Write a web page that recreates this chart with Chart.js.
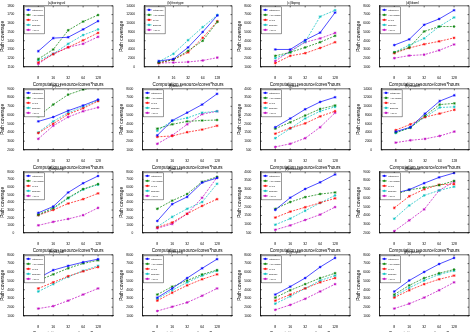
<!DOCTYPE html>
<html><head><meta charset="utf-8">
<script src="https://cdn.jsdelivr.net/npm/chart.js@4.4.1/dist/chart.umd.min.js"></script>
<style>
html,body{margin:0;padding:0;background:#fff;width:474px;height:332px;overflow:hidden;}
.cell{position:absolute;width:118px;height:87px;}
</style></head><body>
<script>
const xLabels = ['8','16','32','64','128'];
const seriesNames = ['UltraFuzz','AFL-single','PAFL','EnFuzz','AFL-P'];
const seriesColors = ['#0000ff','#008000','#ff0000','#00bfbf','#bf00bf'];
const titles = ['(a)boringssl','(b)freetype','(c)libpng','(d)libxml','(e)re2','(f)libarch','(g)size','(h)readelf',
                '(i)objdump','(j)avconv','(k)infotocap','(l)pdftotext','(m)tiff2pdf','(n)ffmpeg','(o)gnuplot','(p)tcpdump'];
const yMins = [1100,0,1000,1000,2000,1000,500,0,0,0,500,2000,1000,1000,1000,1000];
const yMaxs = [1800,14000,8000,8000,9000,8000,4000,14000,8000,8000,4000,9000,8000,8000,8000,8000];
const ySteps = [100,2000,1000,1000,1000,1000,500,2000,1000,1000,500,1000,1000,1000,1000,1000];

// rows: UltraFuzz, AFL-single, PAFL, EnFuzz, AFL-P
const boringssl = [[1280,1430,1440,1530,1625],[1190,1300,1520,1620,1695],[1150,1245,1325,1405,1490],[1175,1250,1365,1465,1530],[1135,1250,1325,1365,1445]];
const freetype = [[1330,1810,4470,8000,11800],[1000,1670,3670,6000,10330],[870,1670,3330,6670,10470],[1200,3000,6130,9130,11930],[870,1000,1130,1470,2130]];
const libpng = [[3000,3000,4070,4930,7230],[2270,2670,3230,3830,4570],[1430,2270,2570,3170,3830],[2000,2670,3900,6770,7500],[1670,2830,3830,4270,4900]];
const libxml = [[3500,4160,5830,6500,7500],[2670,3230,5070,5630,5630],[2570,3170,3600,3930,4330],[2670,3500,4270,5630,6670],[2000,2300,2400,2900,3570]];
const re2 = [[5270,5770,6500,7100,7770],[5860,7200,8340,8930,9200],[3930,5000,6100,6770,7600],[4000,5270,6270,6940,7670],[3270,4770,5770,6430,6870]];
const libarch = [[2670,4370,5270,6200,7430],[3440,3930,4270,4370,4430],[2500,2600,3030,3330,3770],[3200,4330,4670,5270,5430],[1700,2670,3930,5100,5430]];
const size = [[1800,2300,2830,3250,3520],[1720,2080,2470,2850,3050],[1430,1750,2020,2420,2720],[1170,1720,2300,2720,2970],[670,850,1170,1800,2630]];
const readelf = [[4200,5200,8330,11200,12530],[4000,5070,7870,10400,10670],[4540,5870,7530,8330,9200],[3860,5200,7530,9730,9870],[1670,2200,2530,3200,4200]];
const objdump = [[2630,3460,5300,6510,7460],[2400,3280,4610,5750,6400],[2320,3010,3850,4420,5180],[2320,3160,4530,5680,6320],[990,1450,1830,2320,3280]];
const avconv = [[1560,3770,4720,6590,7200],[3160,4230,5100,6700,7350],[720,1370,2510,3540,4420],[800,2100,3160,4040,6440],[610,1180,2510,4610,7280]];
const infotocap = [[1820,2520,3020,3400,3850],[1880,2270,2550,2730,2820],[1380,1720,1970,2230,2480],[970,1320,1770,2220,2650],[680,930,1240,1550,1980]];
const pdftotext = [[6540,6970,7700,8370,8870],[6370,6940,7200,7470,7960],[4870,6200,7000,7530,7600],[3630,5140,6300,6870,7300],[2200,3440,4700,6870,7870]];
const tiff2pdf = [[5340,6250,6740,7160,7510],[5060,5760,6460,7020,7370],[4150,4850,5550,6110,6600],[3800,4640,5480,6180,6740],[1840,2120,2750,3450,4150]];
const ffmpeg = [[3100,4150,5340,6460,7510],[3450,4360,5060,5760,6250],[2750,3660,4500,5200,5760],[2960,3940,4850,5620,6180],[1560,2050,2540,3310,4150]];
const gnuplot = [[3450,4360,5340,6600,7650],[3100,3940,4640,5340,5900],[2750,3450,4150,4850,5340],[2400,3240,4150,5060,5620],[1700,2260,2960,3800,4640]];
const tcpdump = [[3800,5060,6040,6950,7650],[3450,4500,5340,5900,6320],[3100,3940,4640,5200,5620],[3240,4220,5060,5760,6180],[1840,2400,3100,3940,4850]];

const allData = [boringssl,freetype,libpng,libxml,re2,libarch,size,readelf,objdump,avconv,infotocap,pdftotext,tiff2pdf,ffmpeg,gnuplot,tcpdump];
const FONT = 'Liberation Sans';

function star(ctx, x, y, r){
  ctx.beginPath();
  for(let k=0;k<4;k++){
    const ang = k*Math.PI/4;
    ctx.moveTo(x - r*Math.cos(ang), y - r*Math.sin(ang));
    ctx.lineTo(x + r*Math.cos(ang), y + r*Math.sin(ang));
  }
  ctx.stroke();
}

const framePlugin = {
  id: 'frameLegend',
  afterDatasetsDraw(chart){
    const ctx = chart.ctx, a = chart.chartArea;
    const xs = chart.scales.x, ys = chart.scales.y;
    ctx.save();
    ctx.strokeStyle = '#000'; ctx.lineWidth = 0.6; ctx.setLineDash([]);
    ctx.strokeRect(a.left, a.top, a.right - a.left, a.bottom - a.top);
    ctx.beginPath();
    xs.ticks.forEach(t => { const p = xs.getPixelForValue(t.value);
      ctx.moveTo(p, a.bottom); ctx.lineTo(p, a.bottom - 1.5);
      ctx.moveTo(p, a.top); ctx.lineTo(p, a.top + 1.5); });
    ys.ticks.forEach(t => { const p = ys.getPixelForValue(t.value);
      ctx.moveTo(a.left, p); ctx.lineTo(a.left + 1.5, p);
      ctx.moveTo(a.right, p); ctx.lineTo(a.right - 1.5, p); });
    ctx.stroke();
    // legend box
    const lx = a.left + 1, ly = a.top + 1, w = 20, h = 27;
    ctx.fillStyle = '#fff'; ctx.fillRect(lx, ly, w, h);
    ctx.strokeStyle = '#000'; ctx.lineWidth = 0.4; ctx.strokeRect(lx, ly, w, h);
    chart.data.datasets.forEach((d, i) => {
      const y = ly + 3 + i * 5;
      ctx.strokeStyle = d.borderColor; ctx.lineWidth = 0.7;
      ctx.setLineDash(d.borderDash || []);
      ctx.beginPath(); ctx.moveTo(lx + 1.5, y); ctx.lineTo(lx + 6.5, y); ctx.stroke();
      ctx.setLineDash([]);
      star(ctx, lx + 4, y, 1.2);
      ctx.fillStyle = '#000';
      ctx.font = '2.4px "' + FONT + '"';
      ctx.textBaseline = 'middle'; ctx.textAlign = 'left';
      ctx.fillText(d.label, lx + 8, y);
    });
    ctx.restore();
  }
};

allData.forEach((vals, idx) => {
  const col = idx % 4, row = Math.floor(idx / 4);
  const div = document.createElement('div');
  div.className = 'cell';
  div.style.left = Math.round(col * 118.5) + 'px';
  div.style.top = Math.round(row * 83) + 'px';
  const cv = document.createElement('canvas');
  cv.width = 118; cv.height = 87;
  div.appendChild(cv);
  document.body.appendChild(div);
  const mn = yMins[idx], mx = yMaxs[idx];
  new Chart(cv, {
    type: 'line',
    data: {
      datasets: seriesNames.map((n, i) => ({
        label: n,
        data: vals[i].map((v, j) => ({x: j + 1, y: v})),
        borderColor: seriesColors[i],
        backgroundColor: seriesColors[i],
        borderWidth: 0.7,
        borderDash: i === 0 ? [] : [2, 1.2],
        pointStyle: 'star',
        pointRadius: 1.4,
        pointBorderWidth: 0.6,
        fill: false,
        tension: 0
      }))
    },
    options: {
      responsive: false,
      animation: false,
      events: [],
      layout: {padding: {left: 0, right: 5, top: 0, bottom: 0}},
      plugins: {
        legend: {display: false},
        tooltip: {enabled: false},
        title: {display: true, text: titles[idx], color: '#000',
                font: {size: 3.4, family: FONT, weight: 'normal'}, padding: {top: 1, bottom: 0.8}}
      },
      scales: {
        x: {
          type: 'linear', min: 0, max: 6,
          afterBuildTicks: ax => { ax.ticks = [1,2,3,4,5].map(v => ({value: v})); },
          ticks: {callback: v => xLabels[v - 1], color: '#000', font: {size: 3.4, family: FONT},
                  padding: 1, maxRotation: 0, autoSkip: false},
          grid: {display: false},
          border: {display: true, color: '#000', width: 0.6},
          title: {display: true, text: 'Computation resource/cores*hours', color: '#000',
                  font: {size: 4.6, family: FONT}, padding: {top: 0.5, bottom: 0}}
        },
        y: {
          min: mn, max: mx,
          ticks: {stepSize: ySteps[idx], callback: v => String(Math.round(v)), color: '#000',
                  font: {size: 3.2, family: FONT}, padding: 1},
          grid: {display: false},
          border: {display: true, color: '#000', width: 0.6},
          title: {display: true, text: 'Path coverage', color: '#000',
                  font: {size: 4.8, family: FONT}, padding: {top: 0, bottom: 0.5}}
        }
      }
    },
    plugins: [framePlugin]
  });
});
</script>
</body></html>
